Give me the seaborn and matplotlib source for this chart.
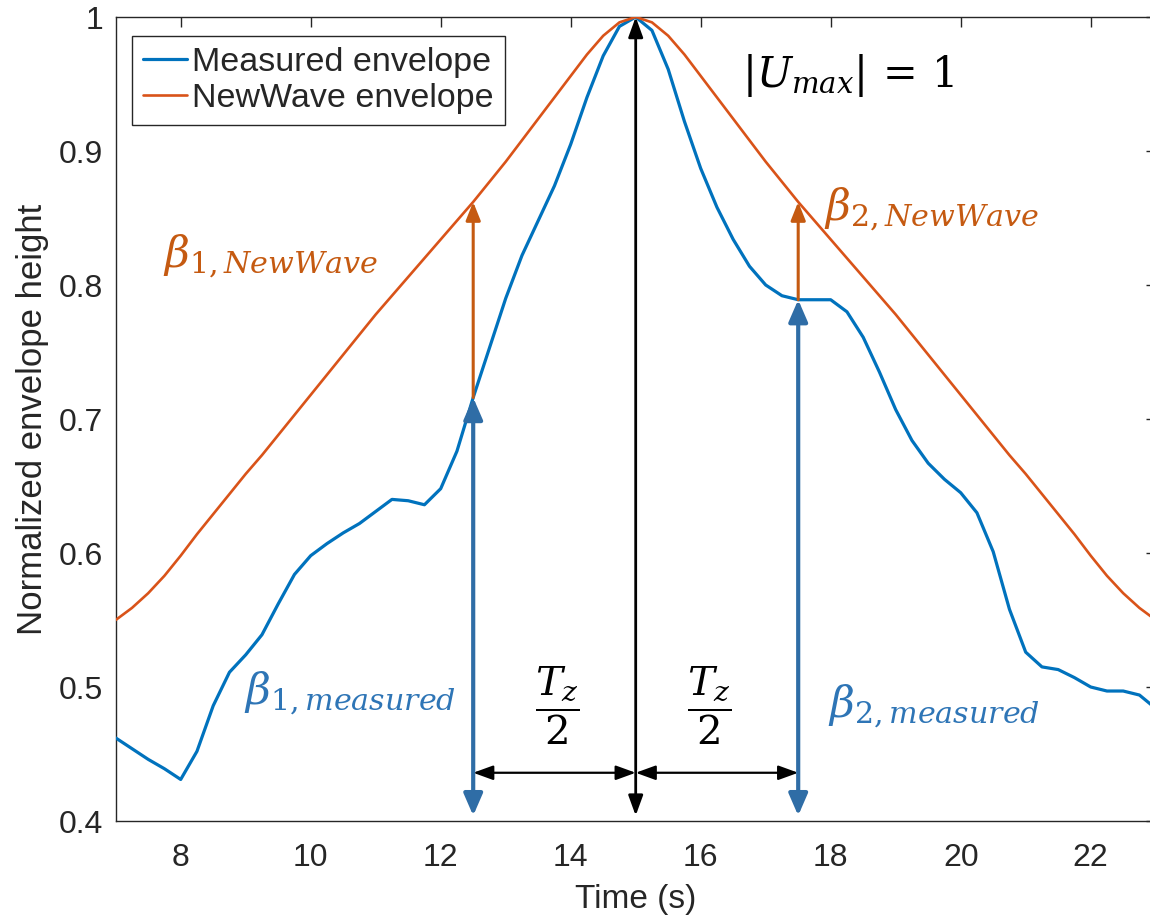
import numpy as np
import pandas as pd
import matplotlib
matplotlib.use("Agg")
import matplotlib.pyplot as plt
import seaborn as sns

# ---- data -------------------------------------------------------------
# sample times (s), 0.25 s spacing
time_s = np.arange(7.0, 23.0001, 0.25)

measured_env = [
    0.462, 0.454, 0.446, 0.439, 0.431, 0.452, 0.486, 0.511,   # 7.00 - 8.75
    0.524, 0.539, 0.562, 0.584, 0.598, 0.607, 0.615, 0.622,   # 9.00 - 10.75
    0.631, 0.640, 0.639, 0.636, 0.648, 0.676, 0.716, 0.753,   # 11.00 - 12.75
    0.790, 0.822, 0.848, 0.874, 0.905, 0.940, 0.971, 0.993,   # 13.00 - 14.75
    1.000, 0.990, 0.961, 0.922, 0.887, 0.858, 0.834, 0.814,   # 15.00 - 16.75
    0.800, 0.792, 0.789, 0.789, 0.789, 0.780, 0.761, 0.735,   # 17.00 - 18.75
    0.707, 0.684, 0.667, 0.655, 0.645, 0.630, 0.601, 0.558,   # 19.00 - 20.75
    0.526, 0.515, 0.513, 0.507, 0.500, 0.497, 0.497, 0.494,   # 21.00 - 22.75
    0.484,                                                    # 23.00
]

newwave_env = [
    0.550, 0.559, 0.570, 0.583, 0.598, 0.614, 0.629, 0.644,   # 7.00 - 8.75
    0.659, 0.673, 0.688, 0.703, 0.718, 0.733, 0.748, 0.763,   # 9.00 - 10.75
    0.778, 0.792, 0.806, 0.820, 0.834, 0.848, 0.862, 0.877,   # 11.00 - 12.75
    0.892, 0.908, 0.924, 0.940, 0.956, 0.972, 0.986, 0.996,   # 13.00 - 14.75
    1.000, 0.996, 0.986, 0.972, 0.956, 0.940, 0.924, 0.908,   # 15.00 - 16.75
    0.892, 0.877, 0.862, 0.848, 0.834, 0.820, 0.806, 0.792,   # 17.00 - 18.75
    0.778, 0.763, 0.748, 0.733, 0.718, 0.703, 0.688, 0.673,   # 19.00 - 20.75
    0.659, 0.644, 0.629, 0.614, 0.598, 0.583, 0.570, 0.559,   # 21.00 - 22.75
    0.550,                                                    # 23.00
]

series_names = ["Measured envelope", "NewWave envelope"]
x_ticks = [8, 10, 12, 14, 16, 18, 20, 22]
y_ticks = [0.4, 0.5, 0.6, 0.7, 0.8, 0.9, 1.0]
y_tick_labels = ["0.4", "0.5", "0.6", "0.7", "0.8", "0.9", "1"]

t_peak = 15.0          # time of the envelope maximum
half_tz = 2.5          # half zero-crossing period T_z / 2
u_max = 1.0

df = pd.DataFrame({
    "Time (s)": np.concatenate([time_s, time_s]),
    "Normalized envelope height": np.concatenate([measured_env, newwave_env]),
    "series": [series_names[0]] * len(time_s) + [series_names[1]] * len(time_s),
})

# ---- style ------------------------------------------------------------
sns.set_theme(style="white")
plt.rcParams["font.family"] = ["Liberation Sans", "DejaVu Sans"]
plt.rcParams["mathtext.fontset"] = "dejavuserif"

BLUE_LINE = "#0072BD"
ORANGE_LINE = "#D95319"
BLUE_NOTE = "#2E75B6"
BLUE_ARROW = "#2F6DA6"
ORANGE_NOTE = "#C55A11"
AX_GREY = "#262626"
LW = [2.3, 1.9]

fig = plt.figure(figsize=(11.5, 9.23), dpi=100)
ax = fig.add_axes([115.7 / 1150, 102 / 923, 1040 / 1150, 804 / 923])

sns.lineplot(data=df, x="Time (s)", y="Normalized envelope height",
             hue="series", palette=[BLUE_LINE, ORANGE_LINE],
             ax=ax, legend=True, zorder=3)
for line, lw in zip(ax.get_lines(), LW):
    line.set_linewidth(lw)
    line.set_solid_joinstyle("round")

ax.set_xlim(7, 23)
ax.set_ylim(0.4, 1.0)
ax.set_xticks(x_ticks)
ax.set_yticks(y_ticks)
ax.set_yticklabels(y_tick_labels)
ax.tick_params(direction="in", length=7, width=1.0, top=True, right=True,
               labelsize=23, pad=9, colors=AX_GREY)
ax.tick_params(axis="x", pad=16)
for sp in ax.spines.values():
    sp.set_color(AX_GREY)
    sp.set_linewidth(1.0)
ax.set_xlabel("Time (s)", fontsize=24, color=AX_GREY, labelpad=8)
ax.set_ylabel("Normalized envelope height", fontsize=25, color=AX_GREY, labelpad=7)

handles, labels = ax.get_legend_handles_labels()
for h, lw in zip(handles, LW):
    h.set_linewidth(lw)
leg = ax.legend(handles, labels, loc="upper left",
                bbox_to_anchor=(0.0157, 0.976), borderaxespad=0,
                fontsize=24.5, frameon=True, fancybox=False, framealpha=1,
                edgecolor=AX_GREY, handlelength=1.3, handletextpad=0.15,
                borderpad=0.32, labelspacing=0.14)
leg.get_frame().set_linewidth(1.0)

# ---- annotation arrows ------------------------------------------------
i1 = int(round((t_peak - half_tz - time_s[0]) / 0.25))
i2 = int(round((t_peak + half_tz - time_s[0]) / 0.25))
t1, t2 = time_s[i1], time_s[i2]
y_base = 0.404
y_span = 0.436


def arrow(x0, y0, x1, y1, color, lw, style, scale, z=5):
    ax.annotate("", xy=(x1, y1), xytext=(x0, y0),
                arrowprops=dict(arrowstyle=style, color=color, lw=lw,
                                mutation_scale=scale, shrinkA=0, shrinkB=0),
                zorder=z)


# NewWave excess above the measured value
arrow(t1, measured_env[i1], t1, newwave_env[i1], ORANGE_NOTE, 2.2,
      "-|>,head_length=0.5,head_width=0.2", 22)
arrow(t2, measured_env[i2], t2, newwave_env[i2], ORANGE_NOTE, 2.2,
      "-|>,head_length=0.5,head_width=0.2", 22)
# measured heights
arrow(t1, y_base, t1, measured_env[i1], BLUE_ARROW, 3.0,
      "<|-|>,head_length=0.6,head_width=0.26", 22, z=6)
arrow(t2, y_base, t2, measured_env[i2], BLUE_ARROW, 3.0,
      "<|-|>,head_length=0.6,head_width=0.26", 22, z=6)
# peak
arrow(t_peak, y_base, t_peak, u_max, "black", 2.0,
      "<|-|>,head_length=0.55,head_width=0.2", 22, z=6)
# half-period spans
arrow(t1, y_span, t_peak, y_span, "black", 1.6,
      "<|-|>,head_length=0.55,head_width=0.2", 22, z=6)
arrow(t_peak, y_span, t2, y_span, "black", 1.6,
      "<|-|>,head_length=0.55,head_width=0.2", 22, z=6)

# ---- labels -----------------------------------------------------------
ax.text(7.73, 0.821, r"$\beta_{1,NewWave}$", color=ORANGE_NOTE, fontsize=31,
        ha="left", va="center", zorder=7)
ax.text(17.9, 0.856, r"$\beta_{2,NewWave}$", color=ORANGE_NOTE, fontsize=31,
        ha="left", va="center", zorder=7)
ax.text(8.98, 0.495, r"$\beta_{1,measured}$", color=BLUE_NOTE, fontsize=31,
        ha="left", va="center", zorder=7)
ax.text(17.96, 0.485, r"$\beta_{2,measured}$", color=BLUE_NOTE, fontsize=31,
        ha="left", va="center", zorder=7)
ax.text(16.64, 0.956, r"$|U_{max}|\,=\,1$", color="black", fontsize=30,
        ha="left", va="center", zorder=7)
ax.text(13.8, 0.486, r"$\dfrac{T_z}{2}$", color="black", fontsize=29,
        ha="center", va="center", zorder=7)
ax.text(16.13, 0.486, r"$\dfrac{T_z}{2}$", color="black", fontsize=29,
        ha="center", va="center", zorder=7)

fig.savefig("out.png", dpi=100)
